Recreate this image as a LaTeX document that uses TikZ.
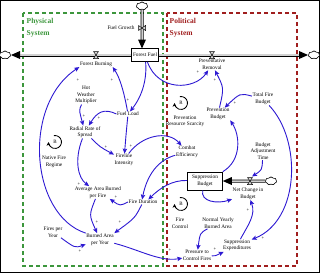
\documentclass[tikz,border=0pt]{standalone}
\usepackage{fontspec}
\setmainfont{Liberation Serif}
\usetikzlibrary{arrows.meta,shapes.symbols}
\definecolor{arrblue}{RGB}{45,25,210}
\definecolor{physgreen}{RGB}{60,150,60}
\definecolor{polred}{RGB}{160,30,30}
\newcommand\varfnt{\fontsize{5.3}{6.6}\selectfont}
\newcommand\sgnfnt{\fontsize{4.6}{4.6}\selectfont}
\begin{document}
\begin{tikzpicture}[x=1pt,y=-1pt,
  var/.style={align=center,inner sep=0.5pt,font=\varfnt,text=black},
  stockbox/.style={draw,line width=0.6pt,fill=white,align=center,inner sep=0.5pt,font=\varfnt},
  titletext/.style={align=left,inner sep=0.5pt,font=\fontsize{7.5}{12}\selectfont\bfseries,anchor=north west},
  flow/.style={arrblue,line width=0.9pt,-{Stealth[length=5pt,width=4.4pt,inset=1pt]}},
  sgn/.style={inner sep=0pt,font=\sgnfnt},
  pipeo/.style={line width=3pt,black},
  pipei/.style={line width=1.5pt,gray!35},
  valve/.style={draw=black,line width=0.5pt,fill=gray!30},
  cloudy/.style={cloud,cloud puffs=7,cloud puff arc=110,aspect=1.4,minimum width=11pt,minimum height=8pt,inner sep=0pt,draw,line width=0.5pt,fill=white},
  loopc/.style={line width=0.8pt,black,-{Stealth[length=3.8pt,width=3.8pt]}},
  looplet/.style={inner sep=0pt,font=\fontsize{5}{5}\selectfont}
]
\useasboundingbox (0,0) rectangle (320,273);
\draw[line width=1pt] (0.5,0.5) rectangle (319.5,272.5);
% system boxes
\draw[physgreen,line width=1.1pt,dash pattern=on 4pt off 3pt] (23,13) rectangle (163,266);
\draw[polred,line width=1.1pt,dash pattern=on 4pt off 3pt] (167,13) rectangle (297,266);
\node[titletext,text=physgreen] (tphys) at (26,18) {Physical\\System};
\node[titletext,text=polred] (tpol) at (169,18) {Political\\System};

% stocks and clouds
\node[stockbox,minimum width=27pt,minimum height=13pt] (ff) at (145,55) {Forest Fuel};
\node[stockbox,minimum width=35pt,minimum height=18pt] (sb) at (205,181) {Suppression\\Budget};
\node[cloudy] (cT) at (142,6) {};
\node[cloudy] (cL) at (5,55) {};
\node[cloudy] (cR) at (314,55) {};
\node[cloudy] (cN) at (271,181) {};

% pipes
\coordinate (bT) at (142,40); \coordinate (tT) at (142,48.5);
\coordinate (bL) at (19,55);  \coordinate (tL) at (11,55);
\coordinate (bR) at (300,55); \coordinate (tR) at (308,55);
\coordinate (bN) at (230,181); \coordinate (tN) at (sb.east);
\draw[pipeo] (cT) -- (bT); \draw[pipei] (cT) -- (bT);
\draw[pipeo] (ff.west) -- (bL); \draw[pipei] (ff.west) -- (bL);
\draw[pipeo] (ff.east) -- (bR); \draw[pipei] (ff.east) -- (bR);
\draw[pipeo] (cN) -- (bN); \draw[pipei] (cN) -- (bN);
\node[cloudy] at (cT) {}; \node[cloudy] at (cL) {}; \node[cloudy] at (cR) {}; \node[cloudy] at (cN) {};
\fill (tT) -- ++(-4,-9) -- ++(8,0) -- cycle;
\fill (tL) -- ++(9,-4) -- ++(0,8) -- cycle;
\fill (tR) -- ++(-9,-4) -- ++(0,8) -- cycle;
\fill (tN) -- ++(9,-4) -- ++(0,8) -- cycle;
% valves
\coordinate (vT) at (142,28);
\coordinate (vL) at (96,55);
\coordinate (vR) at (212,55);
\coordinate (vN) at (250,181);
\draw[valve] (vT) ++(-3.5,-2.5) -- ++(0,5) -- ++(7,-5) -- ++(0,5) -- cycle;
\draw[valve] (vL) ++(-2.5,-3.5) -- ++(5,0) -- ++(-5,7) -- ++(5,0) -- cycle;
\draw[valve] (vR) ++(-2.5,-3.5) -- ++(5,0) -- ++(-5,7) -- ++(5,0) -- cycle;
\draw[valve] (vN) ++(-2.5,-3.5) -- ++(5,0) -- ++(-5,7) -- ++(5,0) -- cycle;
\coordinate (vNtop) at (252,176.5);

% variables
\node[var] (fg) at (121,28) {Fuel Growth};
\node[var] (fb) at (96,64) {Forest Burning};
\node[var] (pr) at (212,64.5) {Preventative\\Removal};
\node[var] (hwm) at (86,95) {Hot\\Weather\\Multiplier};
\node[var] (fl) at (128,114) {Fuel Load};
\node[var] (rrs) at (85,132) {Radial Rate of\\Spread};
\node[var] (fi) at (124,160) {Fireline\\Intensity};
\node[var] (ce) at (187,152) {Combat\\Efficiency};
\node[var] (pb) at (218,114) {Prevention\\Budget};
\node[var] (tfb) at (263,99) {Total Fire\\Budget};
\node[var] (bat) at (263,151) {Budget\\Adjustment\\Time};
\node[var] (ncb) at (248,193.5) {Net Change in\\Budget};
\node[var] (nyba) at (218,223) {Normal Yearly\\Burned Area};
\node[var] (se) at (237,245.5) {Suppression\\Expenditures};
\node[var] (pcf) at (197,255.5) {Pressure to\\Control Fires};
\node[var] (aab) at (98,192.5) {Average Area Burned\\per Fire};
\node[var] (fd) at (143,202) {Fire Duration};
\node[var] (bay) at (100,239.5) {Burned Area\\per Year};
\node[var] (fpy) at (53,232) {Fires per\\Year};

% loops
\node[looplet] (l1) at (55,142) {B};
\node[var] (l1t) at (54,162) {Native Fire\\Regime};
\draw[loopc] (l1.center) ++(260:6.5) arc[start angle=260,end angle=540,radius=6.5];
\node[looplet] (l2) at (181,103) {R};
\node[var] (l2t) at (185,121.5) {Prevention\\Resource Scarcity};
\draw[loopc] (l2.center) ++(260:6.5) arc[start angle=260,end angle=540,radius=6.5];
\node[looplet] (l3) at (181,204) {B};
\node[var] (l3t) at (180,223) {Fire\\Control};
\draw[loopc] (l3.center) ++(260:6.5) arc[start angle=260,end angle=540,radius=6.5];

% connectors
\draw[flow] (ff) .. controls (147,78) and (143,95) .. (fl);
\draw[flow] (fl) .. controls (124,92) and (120,78) .. (fb.south east);
\draw[flow] (bay.north west) .. controls (30,215) and (22,105) .. (fb.south west);
\draw[flow] (hwm) .. controls (79,110) .. (rrs);
\draw[flow] (fl.west) .. controls (104,108) and (97,112) .. (rrs);
\draw[flow] (rrs) .. controls (100,147) .. (fi);
\draw[flow] (fl) .. controls (126,135) .. (fi);
\draw[flow] (rrs) .. controls (74,160) and (78,178) .. (aab);
\draw[flow] (fi) .. controls (142,135) and (168,130) .. (ce);
\draw[flow] (ce) .. controls (158,160) and (147,175) .. (fd.110);
\draw[flow] (sb) .. controls (172,180) and (160,188) .. (fd.25);
\draw[flow] (fd.west) .. controls (120,206) .. ([xshift=-12pt]aab.south east);
\draw[flow] (aab) .. controls (89,215) .. (bay);
\draw[flow] (fd) .. controls (135,218) .. (bay.north east);
\draw[flow] (fpy) .. controls (75,248) .. (bay);
\draw[flow] (bay) .. controls (140,250) and (160,262) .. (pcf);
\draw[flow] (nyba) .. controls (200,233) .. (pcf);
\draw[flow] (pcf) .. controls (215,256) .. (se);
\draw[flow] (se) .. controls (248,225) and (256,215) .. (ncb);
\draw[flow] (tfb) .. controls (302,140) and (300,220) .. (se);
\draw[flow] (sb) .. controls (200,202) and (218,204) .. (ncb);
\draw[flow] (bat) .. controls (262,170) .. (vNtop);
\draw[flow] (sb.north east) .. controls (242,160) and (240,135) .. (pb.south east);
\draw[flow] (tfb) .. controls (240,93) .. (pb);
\draw[flow] (pb) .. controls (224,88) .. (pr);
\draw[flow] (ff) .. controls (158,92) and (195,90) .. (pr);

% polarity signs
\node[sgn] (p1) at (78,80) {+};
\node[sgn] (p2) at (112,80) {+};
\node[sgn] (p3) at (128,100) {+};
\node[sgn] (p4) at (84,116) {+};
\node[sgn] (p5) at (99,118) {+};
\node[sgn] (p6) at (106,147) {+};
\node[sgn] (p7) at (131,146) {+};
\node[sgn] (p8) at (79,184) {+};
\node[sgn] (p9) at (116,197) {+};
\node[sgn] (p10) at (97,222) {+};
\node[sgn] (p11) at (120,222) {+};
\node[sgn] (p12) at (80,251) {+};
\node[sgn] (p13) at (170,250) {+};
\node[sgn] (p14) at (215,249) {+};
\node[sgn] (p15) at (248,210) {+};
\node[sgn] (p16) at (263,238) {+};
\node[sgn] (p17) at (235,103) {+};
\node[sgn] (p18) at (215,80) {+};
\node[sgn] (p19) at (198,72) {+};
\end{tikzpicture}
\end{document}
